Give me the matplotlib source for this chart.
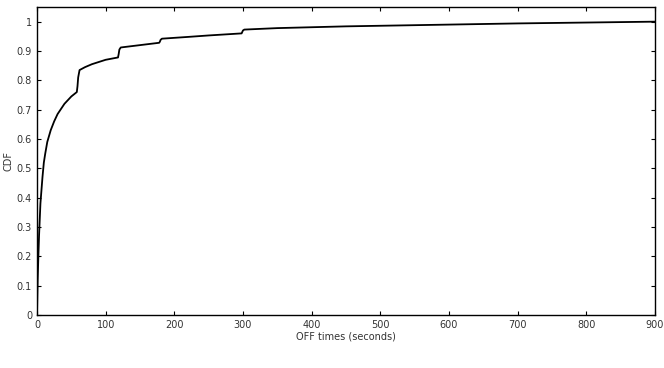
import matplotlib
matplotlib.use("Agg")
import matplotlib.pyplot as plt

off_times = [0, 1, 2, 3, 5, 8, 10, 12, 15, 20, 25, 30, 40, 50, 58, 59, 60, 62, 70, 80, 100, 118, 119, 120, 122, 150, 178, 179, 180, 182,
             220, 250, 298, 299, 300, 302, 350, 400, 450, 500, 550, 600, 700, 800, 900]
cdf = [0.0, 0.12, 0.2, 0.27, 0.38, 0.47, 0.52, 0.55, 0.59, 0.63, 0.66, 0.685, 0.72, 0.745, 0.76, 0.78, 0.81, 0.835, 0.845, 0.855, 0.87, 0.878, 0.89, 0.905, 0.912, 0.92, 0.928, 0.932, 0.938, 0.942,
       0.948, 0.953, 0.96, 0.965, 0.97, 0.973, 0.978, 0.981, 0.984, 0.986, 0.988, 0.99, 0.994, 0.997, 1.0]

fig = plt.figure(figsize=(6.64, 3.68), dpi=100)
ax = fig.add_axes([0.0557, 0.144, 0.9307, 0.837])
ax.plot(off_times, cdf, color="black", linewidth=1.3)
ax.set_xlim(0, 900)
ax.set_ylim(0, 1.05)
ax.set_xticks(range(0, 901, 100))
ax.set_yticks([i / 10 for i in range(11)])
ax.set_yticklabels(["0", "0.1", "0.2", "0.3", "0.4", "0.5", "0.6", "0.7", "0.8", "0.9", "1"])
ax.tick_params(direction="in", top=True, right=True, labelsize=7, length=3, colors="black", labelcolor="#333333")
ax.set_xlabel("OFF times (seconds)", fontsize=7, labelpad=1, color="#333333")
ax.set_ylabel("CDF", fontsize=7, labelpad=2, color="#333333")
for s in ax.spines.values():
    s.set_linewidth(1.0)
fig.savefig("out.png", dpi=100)
